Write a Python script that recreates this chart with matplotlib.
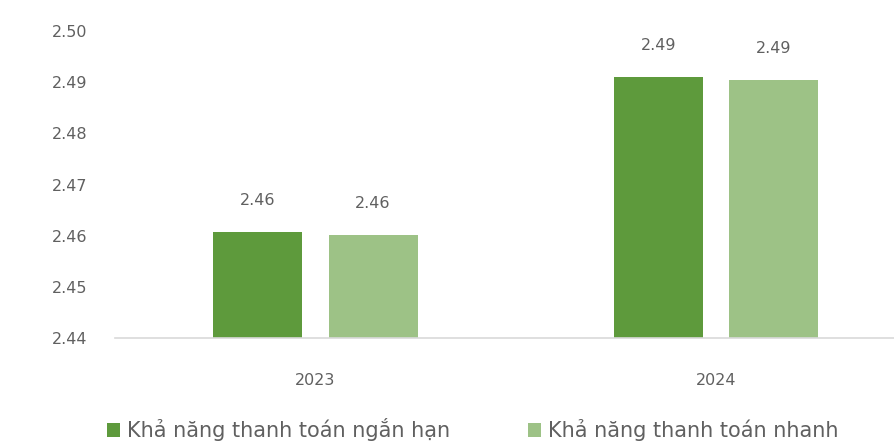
import numpy as np
from matplotlib import pyplot as plt

# data
years = ['2023', '2024']
ngan_han = [2.4607, 2.4910]   # Khả năng thanh toán ngắn hạn
nhanh = [2.4601, 2.4904]      # Khả năng thanh toán nhanh
yticks = [2.44, 2.45, 2.46, 2.47, 2.48, 2.49, 2.50]

dark = '#5e9a3c'
light = '#9dc286'
txt = '#606060'

plt.rcParams['font.family'] = ['DejaVu Sans']

fig = plt.figure(figsize=(8.94, 4.44), dpi=100)
ax = fig.add_axes([115/894, 1 - 338/444, 1 - 115/894, (338 - 31)/444])

x = np.arange(len(years))
w = 0.222
off = 0.144
b1 = ax.bar(x - off, ngan_han, w, color=dark, label='Khả năng thanh toán ngắn hạn')
b2 = ax.bar(x + off, nhanh, w, color=light, label='Khả năng thanh toán nhanh')

for bars in (b1, b2):
    for b in bars:
        ax.annotate(f'{b.get_height():.2f}', (b.get_x() + b.get_width()/2, b.get_height()),
                    xytext=(0, 22.5), textcoords='offset points', ha='center', va='center',
                    fontsize=11.5, color=txt)

ax.set_ylim(2.44, 2.50)
ax.set_yticks(yticks)
ax.set_yticklabels([f'{v:.2f}' for v in yticks])
ax.set_xlim(-0.5, (894 - 315) / 401)
ax.set_xticks(x)
ax.set_xticklabels(years)

for s in ['top', 'right', 'left']:
    ax.spines[s].set_visible(False)
ax.spines['bottom'].set_color('#d9d9d9')
ax.spines['bottom'].set_linewidth(1.2)
ax.tick_params(axis='y', length=0, pad=20, labelsize=11.5, labelcolor=txt)
ax.tick_params(axis='x', length=0, pad=25, labelsize=11.5, labelcolor=txt)

fig.legend(loc='lower left', bbox_to_anchor=(88/894, -0.036), ncol=2, frameon=False,
           labelcolor=txt, handlelength=0.65, handleheight=0.65,
           handletextpad=0.34, columnspacing=3.7,
           prop={'family': ['DejaVu Sans'], 'size': 15})

fig.savefig('out.png', dpi=100)
